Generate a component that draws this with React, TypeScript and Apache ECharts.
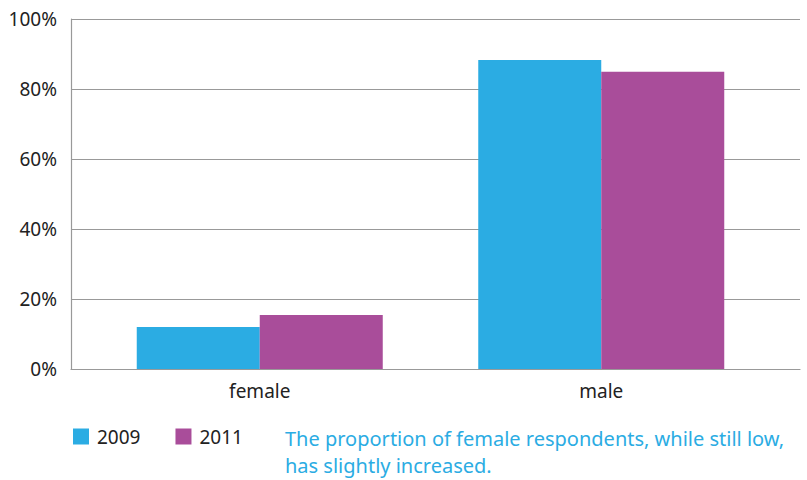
import React, { useEffect, useRef } from "react";
import * as echarts from "echarts";

const categories = ["female", "male"];
const years = ["2009", "2011"];
const values2009 = [12, 88.3];
const values2011 = [15.4, 84.9];
const yTicks = [0, 20, 40, 60, 80, 100];
const note = "The proportion of female respondents, while still low,\nhas slightly increased.";

const BLUE = "#2BACE3";
const PURPLE = "#A94D9A";
const FONT = "Noto Sans";

export default function App() {
  const ref = useRef<HTMLDivElement>(null);
  useEffect(() => {
    const chart = echarts.init(ref.current!, undefined, { renderer: "svg" });
    chart.setOption({
      animation: false,
      textStyle: { fontFamily: FONT },
      grid: [
        { left: 71, right: 7, top: 19, bottom: 111 },
        { left: 89, right: 35, top: 19, bottom: 111 },
      ],
      legend: {
        left: 73,
        top: 427,
        padding: 0,
        itemWidth: 16,
        itemHeight: 16,
        itemGap: 35,
        icon: "rect",
        textStyle: { fontSize: 19, color: "#222", fontFamily: FONT, padding: [0, 0, 0, 3] },
        data: years,
      },
      xAxis: [
        {
          gridIndex: 0,
          type: "value",
          min: 0,
          max: 1,
          axisLine: { show: true, lineStyle: { color: "#999", width: 1.2 } },
          axisTick: { show: false },
          axisLabel: { show: false },
          splitLine: { show: false },
        },
        {
          gridIndex: 1,
          type: "category",
          data: categories,
          axisLine: { show: false },
          axisTick: { show: false },
          axisLabel: { fontSize: 19, color: "#222", margin: 12, fontFamily: FONT },
        },
      ],
      yAxis: [
        {
          gridIndex: 0,
          type: "value",
          min: yTicks[0],
          max: yTicks[yTicks.length - 1],
          interval: 20,
          axisLine: { show: true, lineStyle: { color: "#999", width: 1.2 } },
          axisTick: { show: false },
          axisLabel: {
            formatter: (v: number) => `${v}%`,
            fontSize: 19,
            color: "#222",
            margin: 14,
            fontFamily: FONT,
          },
          splitLine: { show: true, lineStyle: { color: "#999", width: 1.2 } },
        },
        {
          gridIndex: 1,
          type: "value",
          min: 0,
          max: 100,
          show: false,
        },
      ],
      series: [
        {
          name: years[0],
          type: "bar",
          xAxisIndex: 1,
          yAxisIndex: 1,
          data: values2009,
          itemStyle: { color: BLUE },
          barWidth: 123,
          barGap: "0%",
        },
        {
          name: years[1],
          type: "bar",
          xAxisIndex: 1,
          yAxisIndex: 1,
          data: values2011,
          itemStyle: { color: PURPLE },
          barWidth: 123,
          barGap: "0%",
        },
      ],
      graphic: [
        {
          type: "text",
          left: 285,
          top: 425,
          style: {
            text: note,
            fill: BLUE,
            fontSize: 20,
            lineHeight: 27,
            fontFamily: FONT,
          },
        },
      ],
    });
    return () => chart.dispose();
  }, []);
  return <div ref={ref} style={{ width: 807, height: 480, position: "absolute", left: 0, top: 0 }} />;
}
